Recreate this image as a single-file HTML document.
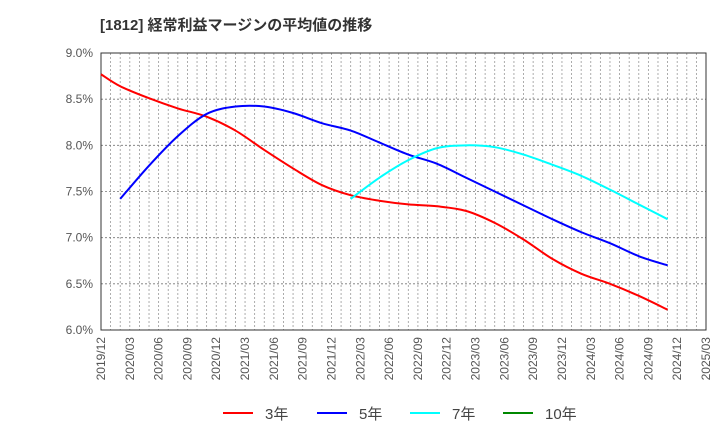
<!DOCTYPE html>
<html><head><meta charset="utf-8"><style>
body{margin:0;background:#fff;font-family:"Liberation Sans","Noto Sans CJK JP",sans-serif;}
svg text{font-family:"Liberation Sans","Noto Sans CJK JP",sans-serif;}
</style></head><body>
<svg id="c" width="720" height="440" xmlns="http://www.w3.org/2000/svg">
<text x="100" y="30" font-size="15" font-weight="bold" fill="#333">[1812]  経常利益マージンの平均値の推移</text>
<g id="grid"></g><g id="axes"></g><g id="series"></g><g id="legend"></g>
</svg>
<script>
const xLabels=["2019/12","2020/03","2020/06","2020/09","2020/12","2021/03","2021/06","2021/09","2021/12","2022/03","2022/06","2022/09","2022/12","2023/03","2023/06","2023/09","2023/12","2024/03","2024/06","2024/09","2024/12","2025/03"];
const yTicks=[6.0,6.5,7.0,7.5,8.0,8.5,9.0];
const s3=[8.77,8.64,8.51,8.40,8.31,8.16,7.95,7.75,7.57,7.46,7.40,7.36,7.34,7.29,7.16,6.98,6.77,6.61,6.50,6.37,6.22];
const s5=[null,7.42,7.78,8.10,8.34,8.42,8.42,8.35,8.24,8.16,8.03,7.90,7.80,7.65,7.50,7.35,7.20,7.06,6.94,6.80,6.70];
const s7=[null,null,null,null,null,null,null,null,null,7.42,7.65,7.84,7.97,8.00,7.98,7.90,7.79,7.67,7.52,7.36,7.20];
const s10=[];
const L=101,R=706,T=53,B=330,NS="http://www.w3.org/2000/svg";
const qw=(R-L)/(xLabels.length-1);
const X=i=>L+i*qw, Y=v=>B-(v-6)/3*(B-T);
const DX=i=>i===0?L:X(i)-qw/3;
function mk(t,a,p){const e=document.createElementNS(NS,t);for(const k in a)e.setAttribute(k,a[k]);p.appendChild(e);return e;}
const g=document.getElementById('grid'),ax=document.getElementById('axes'),se=document.getElementById('series'),lg=document.getElementById('legend');
for(let m=1;m<(xLabels.length-1)*3;m++){const x=L+m*qw/3;
const l=mk('line',{x1:x,x2:x,y1:T,y2:B,stroke:'#999','stroke-width':0.8,'stroke-dasharray':'2,2'},g);

}
yTicks.forEach(v=>{const y=Y(v);
const l=mk('line',{x1:L,x2:R,y1:y,y2:y,stroke:'#777','stroke-width':0.8,'stroke-dasharray':'2,2'},g);


const t=mk('text',{x:L-8,y:y+4,'text-anchor':'end','font-size':12,fill:'#555'},ax);t.textContent=v.toFixed(1)+'%';

});
const fr=mk('rect',{x:L,y:T,width:R-L,height:B-T,fill:'none',stroke:'#333','stroke-width':1},ax);


xLabels.forEach((s,i)=>{const x=X(i)+4;
const t=mk('text',{x:x,y:B+7,'text-anchor':'end','font-size':12,fill:'#555',transform:`rotate(-90 ${x} ${B+7})`},ax);t.textContent=s;

});
function path(arr,col,name){const pts=[];arr.forEach((v,i)=>{if(v!=null)pts.push([DX(i),Y(v)]);});if(pts.length<2)return;
let d=`M${pts[0][0]},${pts[0][1]}`;
for(let i=0;i<pts.length-1;i++){const p0=pts[i-1]||pts[i],p1=pts[i],p2=pts[i+1],p3=pts[i+2]||p2;
d+=` C${p1[0]+(p2[0]-p0[0])/6},${p1[1]+(p2[1]-p0[1])/6} ${p2[0]-(p3[0]-p1[0])/6},${p2[1]-(p3[1]-p1[1])/6} ${p2[0]},${p2[1]}`;}
const p=mk('path',{d:d,fill:'none',stroke:col,'stroke-width':2},se);

}
path(s3,'#f00','series-3yr');path(s5,'#00f','series-5yr');path(s7,'#0ff','series-7yr');path(s10,'#080','series-10yr');
[['3年','#f00',223],['5年','#00f',317],['7年','#0ff',410],['10年','#080',503]].forEach(([n,c,x])=>{
const gg=mk('g',{},lg);


mk('line',{x1:x,x2:x+30,y1:413,y2:413,stroke:c,'stroke-width':2},gg);
const t=mk('text',{x:x+42,y:419,'font-size':15,fill:'#444'},gg);t.textContent=n;});
</script>
</body></html>
